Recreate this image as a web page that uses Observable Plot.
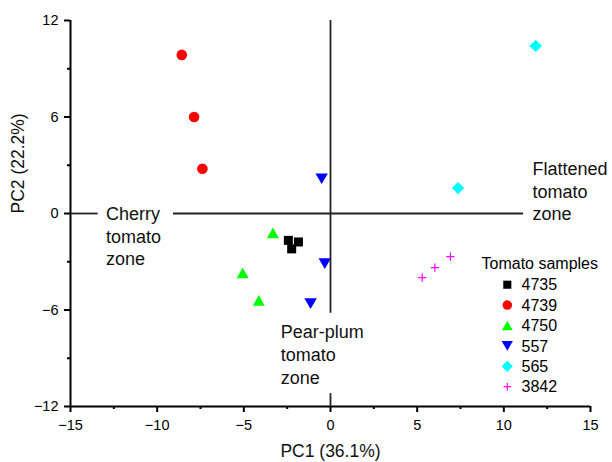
<!DOCTYPE html>
<html>
<head>
<meta charset="utf-8">
<script src="https://cdn.jsdelivr.net/npm/d3@7"></script>
<script src="https://cdn.jsdelivr.net/npm/@observablehq/plot@0.6"></script>
<style>
  body { margin: 0; background: #fff; }
  #chart { position: relative; width: 612px; height: 462px; font-family: "Liberation Sans", Arial, sans-serif; }
  #legend { position: absolute; left: 0; top: 0; pointer-events: none; }
</style>
</head>
<body>
<div id="chart"></div>
<script>
// ---- data ----
const samples = ["4735", "4739", "4750", "557", "565", "3842"];
const sampleColors = ["#000000", "#ff0000", "#00ff00", "#0000ff", "#00ffff", "#ff00ff"];

const pc1_4735 = [-2.43, -1.85, -2.24];
const pc2_4735 = [-1.67, -1.77, -2.20];
const pc1_4739 = [-8.58, -7.87, -7.39];
const pc2_4739 = [9.86, 6.00, 2.78];
const pc1_4750 = [-3.32, -5.07, -4.14];
const pc2_4750 = [-1.20, -3.69, -5.40];
const pc1_557 = [-0.51, -0.33, -1.15];
const pc2_557 = [2.16, -3.12, -5.60];
const pc1_565 = [11.84, 7.36];
const pc2_565 = [10.42, 1.58];
const pc1_3842 = [6.92, 6.02, 5.29];
const pc2_3842 = [-2.68, -3.36, -3.99];

const xMajorTicks = [-15, -10, -5, 0, 5, 10, 15];
const xMinorTicks = [-12.5, -7.5, -2.5, 2.5, 7.5, 12.5];
const yMajorTicks = [-12, -6, 0, 6, 12];
const yMinorTicks = [-9, -3, 3, 9];

// axis lines and zone dividers
const axisX0 = [-15];
const axisY0 = [-12];
const hDividerSegments = [[-15, -13.4], [-9.06, 11.14]];   // along PC2 = 0
const vDividerSegments = [[12, -6.2], [-11.2, -12]];       // along PC1 = 0

const zoneLabels = ["Cherry\ntomato\nzone", "Flattened\ntomato\nzone", "Pear-plum\ntomato\nzone"];
const zoneX = [-12.95, 11.65, -2.87];
const zoneY = [0.6, 3.4, -6.75];

const xTitle = "PC1 (36.1%)";
const yTitle = "PC2 (22.2%)";
const legendTitle = "Tomato samples";

// ---- symbols ----
const unit = s => Math.sqrt(s / Math.PI);
const circleSym = { draw(c, s) { const r = unit(s) * 1.06; c.moveTo(r, 0); c.arc(0, 0, r, 0, 2 * Math.PI); } };
const squareSym = { draw(c, s) { const r = unit(s) * 0.9; c.rect(-r, -r, 2 * r, 2 * r); } };
const triUpSym = { draw(c, s) { const r = unit(s), w = 1.2 * r, h = 1.07 * r; c.moveTo(0, -h); c.lineTo(w, h); c.lineTo(-w, h); c.closePath(); } };
const triDownSym = { draw(c, s) { const r = unit(s), w = 1.25 * r, h = 1.07 * r; c.moveTo(0, h); c.lineTo(w, -h); c.lineTo(-w, -h); c.closePath(); } };
const diamondSym = { draw(c, s) { const r = unit(s) * 1.24; c.moveTo(0, -r); c.lineTo(r, 0); c.lineTo(0, r); c.lineTo(-r, 0); c.closePath(); } };
const plusSym = { draw(c, s) { const r = unit(s) * 0.82; c.moveTo(-r, 0); c.lineTo(r, 0); c.moveTo(0, -r); c.lineTo(0, r); } };
const sampleSymbols = [squareSym, circleSym, triUpSym, triDownSym, diamondSym, plusSym];

// ---- build rows ----
const pc1Lists = [pc1_4735, pc1_4739, pc1_4750, pc1_557, pc1_565, pc1_3842];
const pc2Lists = [pc2_4735, pc2_4739, pc2_4750, pc2_557, pc2_565, pc2_3842];
const rows = samples.flatMap((s, i) => pc1Lists[i].map((v, j) => ({ sample: s, pc1: v, pc2: pc2Lists[i][j] })));
const filledRows = rows.filter(d => d.sample !== "3842");
const strokeRows = rows.filter(d => d.sample === "3842");
const zones = zoneLabels.map((t, i) => ({ text: t, x: zoneX[i], y: zoneY[i] }));

const W = 612, H = 462;
const chart = Plot.plot({
  width: W,
  height: H,
  marginLeft: 70,
  marginRight: 22,
  marginTop: 20,
  marginBottom: 56,
  style: { fontFamily: "'Liberation Sans', Arial, sans-serif", fontSize: "14.5px", color: "#000", background: "#fff" },
  x: { domain: [-15, 15], label: null },
  y: { domain: [-12, 12], label: null },
  color: { domain: samples, range: sampleColors },
  symbol: { domain: samples, range: sampleSymbols },
  marks: [
    // axes
    Plot.axisX({ ticks: xMajorTicks, tickSize: 6, tickPadding: 7, stroke: "#000", strokeWidth: 2, strokeOpacity: 1, label: null, fontSize: 14.5 }),
    Plot.axisX({ ticks: xMinorTicks, tickSize: 3, stroke: "#000", strokeWidth: 2, strokeOpacity: 1, tickFormat: () => "", label: null }),
    Plot.axisY({ ticks: yMajorTicks, tickSize: 6, tickPadding: 6, stroke: "#000", strokeWidth: 2, strokeOpacity: 1, label: null, fontSize: 14.5 }),
    Plot.axisY({ ticks: yMinorTicks, tickSize: 3, stroke: "#000", strokeWidth: 2, strokeOpacity: 1, tickFormat: () => "", label: null }),
    Plot.ruleX(axisX0, { x: d => d, y1: -12, y2: 12, stroke: "#000", strokeWidth: 2, strokeOpacity: 1 }),
    Plot.ruleY(axisY0, { y: d => d, x1: -15, x2: 15, stroke: "#000", strokeWidth: 2, strokeOpacity: 1 }),
    // zone dividers
    Plot.ruleY(hDividerSegments, { y: 0, x1: d => d[0], x2: d => d[1], stroke: "#222", strokeWidth: 1.8 }),
    Plot.ruleX(vDividerSegments, { x: 0, y1: d => d[0], y2: d => d[1], stroke: "#222", strokeWidth: 1.8 }),
    // zone labels
    Plot.text(zones, { x: "x", y: "y", text: "text", textAnchor: "start", lineAnchor: "top", lineHeight: 1.26, fontSize: 18, fill: "#111" }),
    // points
    Plot.dot(filledRows, { x: "pc1", y: "pc2", symbol: "sample", fill: "sample", stroke: "none", r: 5 }),
    Plot.dot(strokeRows, { x: "pc1", y: "pc2", symbol: "sample", stroke: "sample", fill: "none", strokeWidth: 1.2, r: 5 }),
    // axis titles
    Plot.text([xTitle], { frameAnchor: "bottom", text: d => d, lineAnchor: "top", dy: 38, fontSize: 17.5, fill: "#111" }),
    Plot.text([yTitle], { frameAnchor: "left", text: d => d, rotate: -90, lineAnchor: "middle", dx: -52, fontSize: 17.5, fill: "#111" })
  ]
});

const host = document.getElementById("chart");
host.appendChild(chart);

// ---- legend overlay ----
const legend = d3.select(host).append("svg")
  .attr("id", "legend")
  .attr("width", W).attr("height", H)
  .style("font-family", "'Liberation Sans', Arial, sans-serif");
legend.append("text").attr("x", 481.5).attr("y", 269).attr("font-size", 16).attr("fill", "#000").text(legendTitle);
samples.forEach((s, i) => {
  const cy = 284.7 + i * 20.4;
  const path = d3.symbol(sampleSymbols[i], Math.PI * 4.5 * 4.5)();
  const g = legend.append("g").attr("transform", `translate(507.3,${cy})`);
  if (s === "3842") g.append("path").attr("d", path).attr("fill", "none").attr("stroke", sampleColors[i]).attr("stroke-width", 1.2);
  else g.append("path").attr("d", path).attr("fill", sampleColors[i]);
  legend.append("text").attr("x", 521.5).attr("y", cy + 5.6).attr("font-size", 16).attr("fill", "#000").text(s);
});
</script>
</body>
</html>
